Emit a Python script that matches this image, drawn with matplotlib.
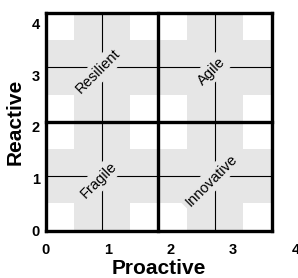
import matplotlib
matplotlib.use("Agg")
import matplotlib.pyplot as plt
from matplotlib.patches import Rectangle

# quadrant layout (data units) and labels
x_edges = [0.0, 1.8, 3.62]
y_edges = [0.0, 2.1, 4.2]
quad_labels = [["Fragile", "Innovative"],   # bottom row: left, right
               ["Resilient", "Agile"]]      # top row: left, right
x_ticks = [0, 1, 2, 3, 4]
y_ticks = [0, 1, 2, 3, 4]
x_label = "Proactive"
y_label = "Reactive"

GRAY = "#e6e6e6"
W, H = 298, 278

plt.rcParams["font.family"] = ["Liberation Sans", "DejaVu Sans"]
fig = plt.figure(figsize=(W / 100, H / 100), dpi=100)

# axes placed in pixels so tick labels land where the reference puts them
left_px, right_px, top_px, bot_px = 44, 297, 11.2, 232.3
ax = fig.add_axes([left_px / W, (H - bot_px) / H,
                   (right_px - left_px) / W, (bot_px - top_px) / H])
ax.set_xlim(-0.032, 4.024)
ax.set_ylim(-0.03, 4.23)
for s in ax.spines.values():
    s.set_visible(False)

for r in range(2):
    for c in range(2):
        x0, x1 = x_edges[c], x_edges[c + 1]
        y0, y1 = y_edges[r], y_edges[r + 1]
        w, h = x1 - x0, y1 - y0
        cx, cy = (x0 + x1) / 2, (y0 + y1) / 2
        # gray cross
        ax.add_patch(Rectangle((x0 + 0.25 * w, y0), 0.5 * w, h,
                               facecolor=GRAY, edgecolor="none", zorder=1))
        ax.add_patch(Rectangle((x0, y0 + 0.25 * h), w, 0.5 * h,
                               facecolor=GRAY, edgecolor="none", zorder=1))
        # thin cross lines
        ax.plot([cx, cx], [y0, y1], color="black", lw=0.8, zorder=2)
        ax.plot([x0, x1], [cy, cy], color="black", lw=0.8, zorder=2)
        ax.text(cx - 0.06, cy - 0.08, quad_labels[r][c], rotation=45,
                ha="center", va="center", fontsize=10.5, zorder=3,
                bbox=dict(facecolor=GRAY, edgecolor="none", pad=2.5))

# thick frame and dividers
lw_thick = 2.4
for xe in x_edges:
    ax.plot([xe, xe], [y_edges[0], y_edges[-1]], color="black",
            lw=lw_thick, zorder=4, clip_on=False, solid_capstyle="projecting")
for ye in y_edges:
    ax.plot([x_edges[0], x_edges[-1]], [ye, ye], color="black",
            lw=lw_thick, zorder=4, clip_on=False, solid_capstyle="projecting")

ax.set_xticks(x_ticks)
ax.set_yticks(y_ticks)
ax.tick_params(length=0)
ax.tick_params(axis="x", pad=7.5)
ax.tick_params(axis="y", pad=3)
for lab in ax.get_xticklabels() + ax.get_yticklabels():
    lab.set_fontweight("bold")
    lab.set_fontsize(10.5)
    lab.set_family(["Liberation Sans Narrow", "Liberation Sans", "DejaVu Sans"])

fig.text(159 / W, 1 - 269 / H, x_label, ha="center", va="center",
         fontsize=15, fontweight="bold")
fig.text(15 / W, 1 - 122 / H, y_label, ha="center", va="center",
         rotation=90, fontsize=15, fontweight="bold")

fig.savefig("out.png", dpi=100)
